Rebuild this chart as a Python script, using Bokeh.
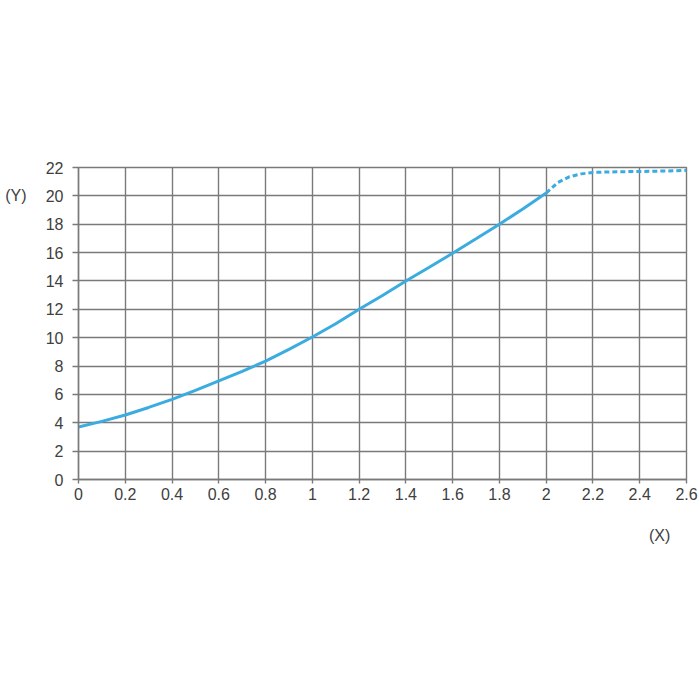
from bokeh.plotting import figure
from bokeh.models import FixedTicker, Range1d, LinearAxis
from bokeh.embed import file_html
from bokeh.resources import INLINE

# data
x_solid = [0.0, 0.1, 0.2, 0.3, 0.4, 0.5, 0.6, 0.7, 0.8, 0.9, 1.0,
           1.1, 1.2, 1.3, 1.4, 1.5, 1.6, 1.7, 1.8, 1.9, 2.0]
y_solid = [3.7, 4.1, 4.55, 5.08, 5.65, 6.28, 6.95, 7.63, 8.35, 9.18, 10.05,
           10.98, 12.0, 12.98, 14.0, 14.97, 15.95, 16.97, 18.0, 19.08, 20.2]
x_dash = [2.0, 2.05, 2.1, 2.15, 2.2, 2.3, 2.4, 2.5, 2.6]
y_dash = [20.2, 20.95, 21.35, 21.55, 21.65, 21.7, 21.72, 21.75, 21.8]

x_ticks = [0, 0.2, 0.4, 0.6, 0.8, 1.0, 1.2, 1.4, 1.6, 1.8, 2.0, 2.2, 2.4, 2.6]
x_tick_labels = ["0", "0.2", "0.4", "0.6", "0.8", "1", "1.2", "1.4", "1.6", "1.8", "2", "2.2", "2.4", "2.6"]
y_ticks = [0, 2, 4, 6, 8, 10, 12, 14, 16, 18, 20, 22]
y_tick_labels = [str(v) for v in y_ticks]
x_unit_label = "(X)"
x_unit_pos = 2.485
y_unit_label = "(Y)"
y_unit_pos = 20

FONT = "Liberation Sans"
GRID = "#7a7a7a"
TEXT = "#404040"
LINE = "#3aace0"
FS = "16px"

p = figure(width=700, height=700, output_backend="svg", toolbar_location=None,
           x_range=Range1d(0, 2.6), y_range=Range1d(0, 22),
           min_border_left=78, min_border_right=14, min_border_top=167, min_border_bottom=221)

p.outline_line_color = GRID
p.outline_line_width = 1.4

for ax in (p.xaxis[0], p.yaxis[0]):
    ax.axis_line_color = GRID
    ax.axis_line_width = 1.4
    ax.major_tick_line_color = GRID
    ax.major_tick_line_width = 1.4
    ax.major_tick_in = 0
    ax.minor_tick_line_color = None
    ax.major_label_text_font = FONT
    ax.major_label_text_font_size = FS
    ax.major_label_text_color = TEXT

p.xaxis[0].ticker = FixedTicker(ticks=x_ticks)
p.xaxis[0].major_label_overrides = {t: l for t, l in zip(x_ticks, x_tick_labels)}
p.xaxis[0].major_tick_out = 4
p.xaxis[0].major_label_standoff = 4

p.yaxis[0].ticker = FixedTicker(ticks=y_ticks)
p.yaxis[0].major_label_overrides = {t: l for t, l in zip(y_ticks, y_tick_labels)}
p.yaxis[0].major_tick_out = 6
p.yaxis[0].major_label_standoff = 9

# extra axes carrying the unit labels "(Y)" and "(X)"
def unit_axis(pos, label, standoff):
    a = LinearAxis(ticker=FixedTicker(ticks=[pos]),
                   major_label_overrides={pos: label})
    a.axis_line_color = None
    a.major_tick_line_color = None
    a.minor_tick_line_color = None
    a.major_tick_in = 0
    a.major_tick_out = 0
    a.major_label_standoff = standoff
    a.major_label_text_font = FONT
    a.major_label_text_font_size = FS
    a.major_label_text_color = TEXT
    return a

p.add_layout(unit_axis(y_unit_pos, y_unit_label, 16), "left")
p.add_layout(unit_axis(x_unit_pos, x_unit_label, 24), "below")

p.xgrid.grid_line_color = GRID
p.ygrid.grid_line_color = GRID
p.xgrid.grid_line_width = 1.4
p.ygrid.grid_line_width = 1.4

p.line(x_solid, y_solid, line_color=LINE, line_width=3)
p.line(x_dash, y_dash, line_color=LINE, line_width=3, line_dash="5 3")

open("out.html", "w").write(file_html(p, INLINE))
